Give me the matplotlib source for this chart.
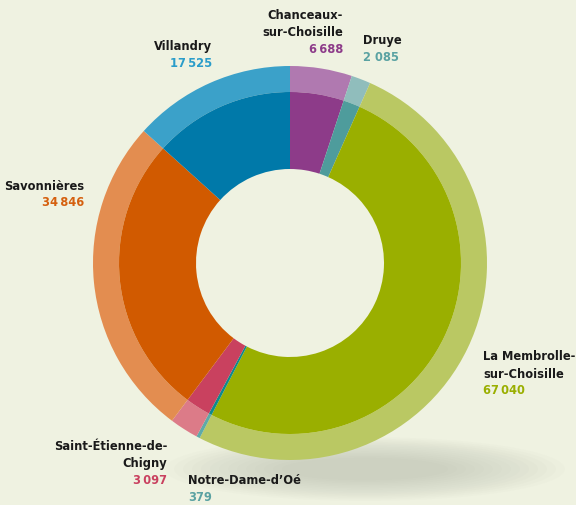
import matplotlib.pyplot as plt
from matplotlib.patches import Ellipse
from matplotlib import font_manager

# data, clockwise from 12 o'clock
communes = ['Chanceaux-\nsur-Choisille', 'Druye', 'La Membrolle-\nsur-Choisille',
            'Notre-Dame-d\u2019Oé', 'Saint-Étienne-de-\nChigny', 'Savonnières', 'Villandry']
population = [6688, 2085, 67040, 379, 3097, 34846, 17525]
value_labels = ['6\u2009688', '2 085', '67\u2009040', '379', '3\u2009097', '34\u2009846', '17\u2009525']

dark = ['#8d3b89', '#4e9c9c', '#9aaf00', '#0e8a8c', '#c9415f', '#d15a00', '#0079a9']
light = ['#b079b0', '#90bdbc', '#bac863', '#5eaaa8', '#dc7b88', '#e38d50', '#3ba1c9']
text_col = ['#8d3b89', '#5aa2a2', '#9aaf00', '#5aa2a2', '#c9415f', '#d5600f', '#2a9dca']

# label anchor (x, y of first line, alignment) in pixel coords from top-left
label_pos = [(343, 15, 'right'), (363, 40, 'left'), (483, 357, 'left'), (188, 481, 'left'),
             (167, 447, 'right'), (84, 186, 'right'), (212, 46, 'right')]

bg = '#eff2e1'
W, H = 576, 506
fig = plt.figure(figsize=(W / 100, H / 100), dpi=100, facecolor=bg)
ax = fig.add_axes([0, 0, 1, 1])
ax.set_facecolor(bg)

cx, cy = 290, H - 264

# soft shadow under the ring
for i in range(14):
    ax.add_patch(Ellipse((365, H - 470), 400 - i * 18, 64 - i * 3.2,
                         color='#8a8f80', alpha=0.022, lw=0, zorder=0))

ax.pie(population, colors=light, radius=197, center=(cx, cy), startangle=90,
       counterclock=False, wedgeprops=dict(width=26, linewidth=0), frame=True)
ax.pie(population, colors=dark, radius=171, center=(cx, cy), startangle=90,
       counterclock=False, wedgeprops=dict(width=77, linewidth=0), frame=True)
ax.set_xlim(0, W)
ax.set_ylim(0, H)
ax.axis('off')

names = {f.name for f in font_manager.fontManager.ttflist}
fam = ['Liberation Sans Narrow'] if 'Liberation Sans Narrow' in names else ['DejaVu Sans']
lh = 17
fs = 9.2
for name, val, col, (x, y, ha) in zip(communes, value_labels, text_col, label_pos):
    lines = name.split('\n')
    for k, ln in enumerate(lines):
        ax.text(x, H - (y + k * lh), ln, ha=ha, va='center', fontsize=fs,
                fontweight='bold', family=fam, fontstretch='condensed', color='#1a1a1a')
    ax.text(x, H - (y + len(lines) * lh), val, ha=ha, va='center', fontsize=fs,
            fontweight='bold', family=fam, fontstretch='condensed', color=col)

fig.savefig('out.png', dpi=100, facecolor=bg)
